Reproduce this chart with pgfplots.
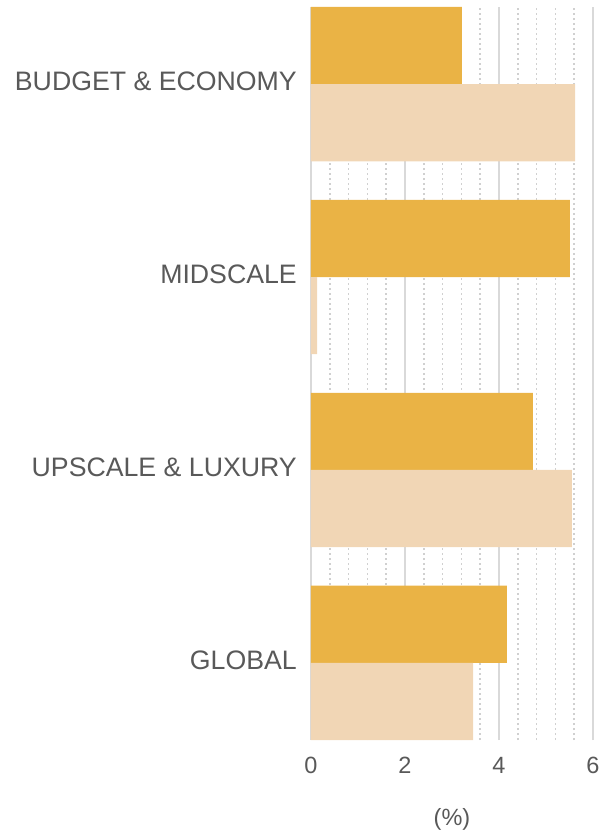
\documentclass[border=0pt]{standalone}
\usepackage{pgfplots}
\pgfplotsset{compat=1.18}
\usepackage{fontspec}
\setmainfont{Liberation Sans}
\definecolor{darkbar}{HTML}{EAB345}
\definecolor{lightbar}{HTML}{F1D6B5}
\definecolor{txt}{HTML}{595959}
\definecolor{gridc}{HTML}{D9D9D9}
\begin{document}
\begin{tikzpicture}
\useasboundingbox (-311pt,-95pt) rectangle (291pt,740pt);
\begin{axis}[
  at={(0,0)}, anchor=south west,
  scale only axis, width=282pt, height=733pt,
  xmin=0, xmax=6, ymin=-0.4, ymax=3.4,
  enlargelimits=false,
  axis line style={draw=none},
  major tick length=0pt, minor tick length=0pt,
  xtick={0,2,4,6},
  minor x tick num=4,
  ytick={0,1,2,3},
  yticklabels={GLOBAL, UPSCALE \& LUXURY, MIDSCALE, BUDGET \& ECONOMY},
  xmajorgrids, xminorgrids,
  major grid style={draw=gridc, line width=2pt},
  minor grid style={draw=gridc!90!gray, line width=1.6pt, dash pattern=on 1.6pt off 3.4pt},
  /pgf/number format/assume math mode=true,
  xticklabel style={font=\fontsize{23.5pt}{26pt}\selectfont, text=txt, anchor=north, inner sep=0pt, yshift=-17pt},
  yticklabel style={font=\fontsize{26.7pt}{30pt}\selectfont, text=txt, anchor=east, inner sep=0pt, xshift=-14pt, yshift=2.5pt},
  xlabel={(\%)},
  xlabel style={font=\fontsize{23.5pt}{26pt}\selectfont, text=txt, at={(axis description cs:0.5,0)}, anchor=center, yshift=-79pt},
]
\addplot[xbar, fill=darkbar, draw=none, bar width=0.4, bar shift=0.2]
  coordinates {(3.21,3) (5.51,2) (4.72,1) (4.17,0)};
\addplot[xbar, fill=lightbar, draw=none, bar width=0.4, bar shift=-0.2]
  coordinates {(5.62,3) (0.13,2) (5.55,1) (3.45,0)};
\end{axis}
\end{tikzpicture}
\end{document}
